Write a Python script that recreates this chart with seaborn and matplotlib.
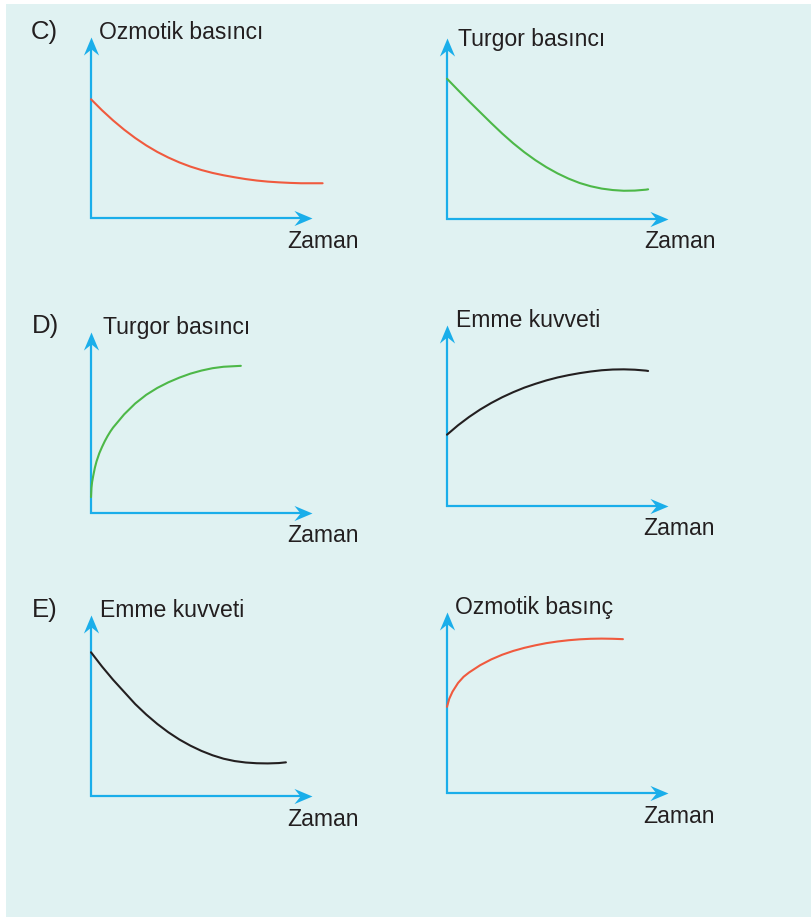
import matplotlib
matplotlib.use("Agg")
import matplotlib.pyplot as plt
import seaborn as sns
import pandas as pd
from matplotlib.path import Path
from matplotlib.patches import Rectangle

# ---------------- data ----------------
c1_time = [0, 0.5, 1, 1.5, 2, 2.5, 3, 3.5, 4, 4.5, 5, 5.5, 6, 6.5, 7, 7.5, 8,
           8.5, 9, 9.5, 10, 10.48]
c1_osmotic = [6.56, 5.95, 5.39, 4.88, 4.42, 4.01, 3.65, 3.34, 3.07, 2.84, 2.65,
              2.49, 2.36, 2.25, 2.15, 2.07, 2.01, 1.97, 1.94, 1.92, 1.92, 1.92]

c2_time = [0, 0.5, 1, 1.5, 2, 2.5, 3, 3.5, 4, 4.5, 5, 5.5, 6, 6.5, 7, 7.5, 8,
           8.5, 9, 9.1]
c2_turgor = [7.75, 7.12, 6.50, 5.90, 5.30, 4.72, 4.18, 3.69, 3.25, 2.86, 2.52,
             2.23, 1.99, 1.81, 1.68, 1.60, 1.56, 1.57, 1.62, 1.64]

d1_time = [0, 0.02, 0.05, 0.1, 0.175, 0.25, 0.375, 0.5, 0.625, 0.75, 0.875, 1,
           1.5, 2, 2.5, 3, 3.5, 4, 4.5, 5, 5.5, 6, 6.78]
d1_turgor = [0.88, 1.39, 1.71, 2.05, 2.50, 2.85, 3.30, 3.65, 3.97, 4.25, 4.50,
             4.72, 5.45, 6.05, 6.53, 6.91, 7.22, 7.48, 7.70, 7.87, 8.00, 8.08, 8.13]

d2_time = [0, 0.5, 1, 1.5, 2, 2.5, 3, 3.5, 4, 4.5, 5, 5.5, 6, 6.5, 7, 7.5, 8,
           8.5, 9, 9.1]
d2_suction = [3.94, 4.46, 4.92, 5.33, 5.69, 6.01, 6.29, 6.54, 6.75, 6.94, 7.10,
              7.23, 7.34, 7.43, 7.50, 7.54, 7.55, 7.53, 7.48, 7.46]

e1_time = [0, 0.5, 1, 1.5, 2, 2.5, 3, 3.5, 4, 4.5, 5, 5.5, 6, 6.5, 7, 7.5, 8,
           8.5, 8.82]
e1_suction = [7.94, 7.15, 6.42, 5.75, 5.08, 4.50, 3.98, 3.52, 3.12, 2.78, 2.49,
              2.25, 2.06, 1.93, 1.85, 1.81, 1.80, 1.82, 1.86]

e2_time = [0, 0.1, 0.25, 0.5, 0.75, 1, 1.5, 2, 2.5, 3, 3.5, 4, 4.5, 5, 5.5, 6,
           6.5, 7, 7.5, 7.96]
e2_osmotic = [4.76, 5.20, 5.60, 6.08, 6.42, 6.66, 7.06, 7.38, 7.64, 7.85, 8.02,
              8.16, 8.28, 8.37, 8.44, 8.49, 8.52, 8.53, 8.52, 8.50]

panel_letters = ["C)", "D)", "E)"]
y_labels = ["Ozmotik basıncı", "Turgor basıncı",
            "Turgor basıncı", "Emme kuvveti",
            "Emme kuvveti", "Ozmotik basınç"]
x_label = "Zaman"

# ---------------- style ----------------
BG = "#e0f2f2"
BLUE = "#1aaeea"
RED = "#f05a3e"
GREEN = "#4db848"
BLACK = "#231f20"
TXT = "#231f20"

sns.set_theme(style="white")
plt.rcParams["font.family"] = ["Liberation Sans", "DejaVu Sans"]

W, H = 811, 919
FS = 16.6
FS_LETTER = 18.5
fig = plt.figure(figsize=(W / 100, H / 100), dpi=100)
fig.patch.set_facecolor("white")
fig.patches.append(Rectangle((6 / W, 2 / H), (W - 6) / W, (H - 6) / H,
                             transform=fig.transFigure, facecolor=BG,
                             edgecolor="none", zorder=-10))

# arrow heads as custom markers (tip at origin, concave back)
right_head = Path([(0, 0), (-1, 0.42), (-0.66, 0), (-1, -0.42), (0, 0)],
                  [Path.MOVETO, Path.LINETO, Path.LINETO, Path.LINETO, Path.CLOSEPOLY])
up_head = Path([(0, 0), (0.42, -1), (0, -0.66), (-0.42, -1), (0, 0)],
               [Path.MOVETO, Path.LINETO, Path.LINETO, Path.LINETO, Path.CLOSEPOLY])

AW, AH = 221, 181
# (origin x, origin y) in pixels, curve, colour, label pos, zaman pos
layout = [
    ((91, 218), (c1_time, c1_osmotic), RED, (99, 39), (287, 248)),
    ((447, 219), (c2_time, c2_turgor), GREEN, (458, 46), (644, 248)),
    ((91, 513), (d1_time, d1_turgor), GREEN, (103, 334), (287, 542)),
    ((447, 506), (d2_time, d2_suction), BLACK, (456, 327), (643, 535)),
    ((91, 796), (e1_time, e1_suction), BLACK, (100, 617), (287, 826)),
    ((447, 793), (e2_time, e2_osmotic), RED, (455, 614), (643, 823)),
]
letter_pos = [(31, 39), (32, 333), (32, 617)]


def ftext(x, y, s, fs=FS):
    fig.text(x / W, 1 - y / H, s, ha="left", va="baseline", fontsize=fs, color=TXT)


for i, ((ox, oy), (tx, ty), col, lpos, zpos) in enumerate(layout):
    ax = fig.add_axes([ox / W, 1 - oy / H, AW / W, AH / H])
    ax.set_axis_off()
    ax.set_xlim(0, 10)
    ax.set_ylim(0, 10)
    # axes arrows
    ax.plot([-0.004, 0.97], [0, 0], transform=ax.transAxes, color=BLUE, lw=1.6,
            clip_on=False, solid_capstyle="butt")
    ax.plot([0, 0], [-0.004, 0.96], transform=ax.transAxes, color=BLUE, lw=1.6,
            clip_on=False, solid_capstyle="butt")
    ax.plot([1], [0], transform=ax.transAxes, marker=right_head, ms=26,
            color=BLUE, mec="none", clip_on=False)
    ax.plot([0], [1], transform=ax.transAxes, marker=up_head, ms=26,
            color=BLUE, mec="none", clip_on=False)
    df = pd.DataFrame({"Zaman": tx, "deger": ty})
    sns.lineplot(data=df, x="Zaman", y="deger", ax=ax, color=col, linewidth=1.5,
                 sort=False, clip_on=False, zorder=3)
    ax.set_axis_off()
    ftext(*lpos, y_labels[i])
    ftext(*zpos, x_label)

for (lx, ly), s in zip(letter_pos, panel_letters):
    ftext(lx, ly, s, FS_LETTER)

fig.savefig("out.png", dpi=100, facecolor=fig.get_facecolor())
